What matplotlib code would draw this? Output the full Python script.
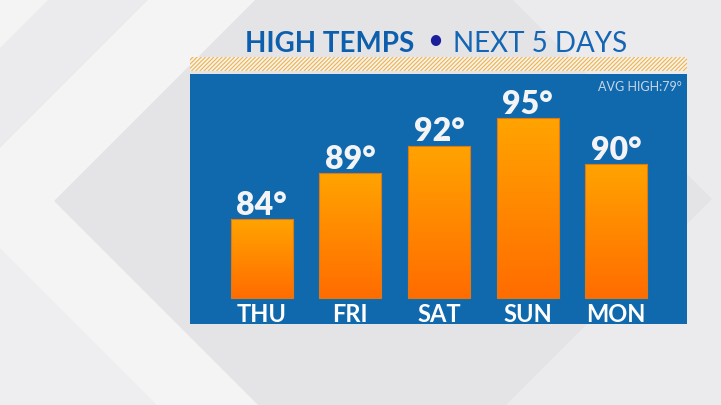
import matplotlib
matplotlib.use("Agg")
import matplotlib.pyplot as plt
import numpy as np
from matplotlib.patches import Polygon, Rectangle
from matplotlib.transforms import blended_transform_factory

days = ["THU", "FRI", "SAT", "SUN", "MON"]
highs = [84, 89, 92, 95, 90]
avg_high = 79

plt.rcParams['font.family'] = ['Lato', 'DejaVu Sans']
plt.rcParams['hatch.linewidth'] = 0.8

W, H = 721, 406
fig = plt.figure(figsize=(W / 100, H / 100), dpi=100)

# background, pixel coords with y going down
bg = fig.add_axes([0, 0, 1, 1])
bg.set_xlim(0, W)
bg.set_ylim(H, 0)
bg.axis("off")
bg.add_patch(Rectangle((0, 0), W, H, color="#ebebed", zorder=0))
bg.add_patch(Polygon([(0, 0), (48, 0), (0, 48)], color="#f4f4f5", zorder=1))
# left chevron band
bg.add_patch(Polygon([(150, 0), (257, 0), (55, 202), (259, 406), (156, 406), (0, 250), (0, 150)],
                     color="#f4f4f5", zorder=1))
# big inner shape
bg.add_patch(Polygon([(55, 202), (257, 0), (511, 0), (711, 200), (505, 406), (259, 406)],
                     color="#e4e4e6", zorder=1))
bg.add_patch(Polygon([(0, 250), (156, 406), (0, 406)], color="#eeeef0", zorder=1))

# title
bg.text(245, 52, "HIGH TEMPS", fontsize=20, fontweight="bold", color="#0d5fae", va="baseline", zorder=5)
bg.text(435, 49, "\u2022", fontsize=20, color="#1b1f9c", ha="center", va="baseline", zorder=5)
bg.text(453, 52, "NEXT 5 DAYS", fontsize=20, color="#1565b5", va="baseline", zorder=5)

# striped band above the panel
bg.add_patch(Rectangle((190, 58), 497, 14, facecolor="#f7f3ec", edgecolor="none", zorder=2))
bg.add_patch(Rectangle((190, 58), 497, 14, facecolor="none", edgecolor="#efb34c",
                       hatch="////////", linewidth=0, zorder=3))

# main panel
ax = fig.add_axes([190 / W, (H - 325) / H, 497 / W, 250 / H])
ax.set_facecolor("#1169ad")
for s in ax.spines.values():
    s.set_visible(False)
ax.set_xticks([])
ax.set_yticks([])

base = 75.4
x = np.arange(len(days))
bars = ax.bar(x, np.array(highs) - base, bottom=base, width=0.70,
              color="none", edgecolor="#e07a10", linewidth=0.8, zorder=3)

grad = np.linspace(0, 1, 256).reshape(-1, 1)
cmap = matplotlib.colors.LinearSegmentedColormap.from_list("heat", ["#ff6c00", "#ffa400"])
for b in bars:
    x0, y0 = b.get_x(), b.get_y()
    im = ax.imshow(grad, cmap=cmap, aspect="auto", origin="lower",
                   extent=[x0, x0 + b.get_width(), y0, y0 + b.get_height()], zorder=2)
    im.set_clip_path(b)

ax.set_xlim(-0.81, 4.80)
ax.set_ylim(72.57, 99.8)

for xi, v in zip(x, highs):
    ax.annotate(f"{v}\u00b0", (xi, v), xytext=(0, 3.8), textcoords="offset points",
                ha="center", va="baseline", fontsize=23, fontweight="heavy", color="#f4f4f6", zorder=4)

tr = blended_transform_factory(ax.transData, ax.transAxes)
for xi, d in zip(x, days):
    ax.text(xi, 0.012, d, transform=tr, ha="center", va="baseline",
            fontsize=17, fontweight="bold", color="white", zorder=4)

ax.text(0.99, 0.935, f"AVG HIGH:{avg_high}\u00b0", transform=ax.transAxes, ha="right", va="baseline",
        fontsize=9, color="#c8d6e6", zorder=4)

plt.savefig("out.png", dpi=100)
plt.close()
